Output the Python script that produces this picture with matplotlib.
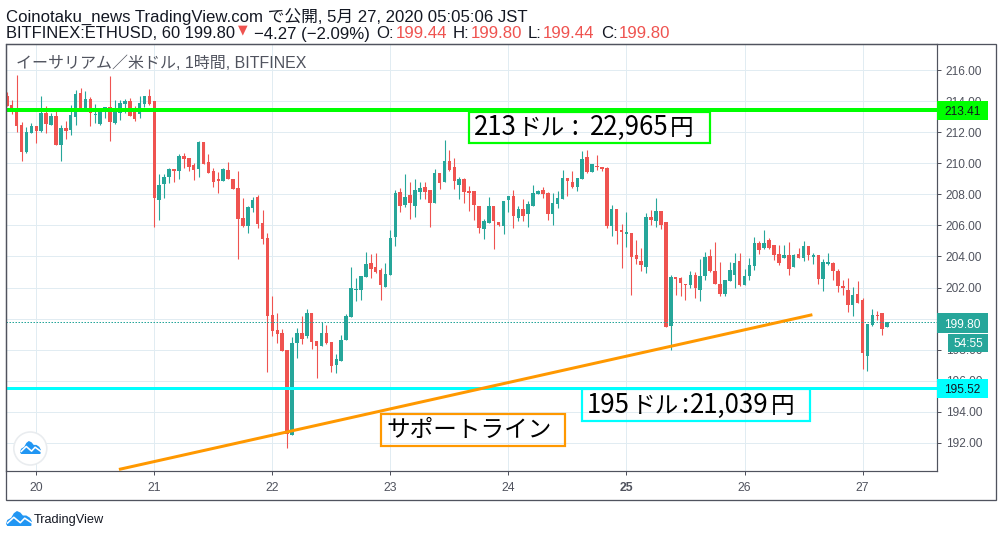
import numpy as np
import matplotlib
matplotlib.use("Agg")
import matplotlib.pyplot as plt
from matplotlib.patches import Rectangle, Circle, Polygon

plt.rcParams['font.family'] = ['Liberation Sans', 'Noto Sans CJK JP', 'DejaVu Sans']

# hourly candles, first one is 19th 18:00
opens = [214.34,213.76,213.57,212.47,210.73,211.96,212.41,212.09,213.25,212.47,
         213.05,211.18,212.28,212.15,212.99,214.54,213.51,214.15,213.12,212.54,
         213.31,213.63,212.60,213.27,213.83,214.02,213.38,213.18,213.83,214.34,
         214.02,207.63,208.67,209.12,209.63,209.51,210.47,210.34,209.89,209.63,
         211.38,210.09,209.51,208.99,208.86,209.57,208.99,208.41,206.47,205.96,
         207.12,207.83,206.15,205.18,200.24,199.28,199.09,197.99,192.52,198.44,
         199.09,198.89,200.37,198.57,198.25,199.09,198.51,197.03,197.28,198.64,
         200.12,201.85,201.85,202.69,203.59,203.33,203.14,202.05,202.82,205.25,
         208.15,207.31,207.96,207.25,208.15,208.47,208.28,207.44,209.38,208.80,
         210.15,209.76,208.60,208.99,208.22,208.22,207.25,205.76,206.15,207.25,
         206.22,205.96,207.63,207.89,206.47,207.05,206.73,207.25,208.02,208.28,
         208.09,206.73,207.38,207.70,209.05,208.80,208.47,208.99,210.41,209.44,
         209.83,209.76,209.70,205.96,207.05,205.71,205.45,205.52,204.10,203.72,
         203.33,206.54,206.29,206.93,206.22,199.54,202.69,202.63,202.24,202.18,
         202.82,201.85,202.75,204.04,203.07,202.24,201.60,202.43,202.82,203.72,
         202.18,202.75,203.40,204.87,204.55,205.07,204.75,204.17,203.91,204.10,
         203.30,204.13,203.88,204.65,203.96,204.07,202.52,203.49,203.55,203.04,
         202.07,201.82,200.85,201.56,201.17,197.57,199.56,200.21,200.33,199.44]
highs = [214.60,214.09,215.70,212.67,212.34,212.60,212.41,214.34,213.70,213.25,
         213.38,212.47,212.73,213.76,214.73,214.86,214.67,214.28,213.83,213.44,
         213.63,215.65,214.09,214.09,214.15,214.22,213.70,214.34,214.34,214.80,
         214.02,209.31,209.31,209.70,209.63,210.60,210.67,210.34,210.02,211.44,
         211.38,210.60,209.70,209.44,209.70,210.09,208.99,209.51,207.76,207.25,
         207.83,207.96,206.99,205.51,201.47,200.37,199.34,197.99,198.83,199.41,
         200.18,200.63,200.37,198.57,199.79,199.60,198.51,197.73,198.96,200.31,
         203.33,202.63,202.76,204.30,204.17,204.24,203.27,203.59,205.70,208.28,
         208.41,209.31,208.80,208.99,208.80,208.80,208.28,209.63,209.38,211.51,
         210.86,210.34,209.12,209.05,208.54,208.22,207.25,206.41,207.83,207.25,
         206.22,207.57,207.89,208.28,207.25,207.70,207.57,208.60,208.28,208.47,
         208.15,208.09,208.22,209.57,209.05,209.51,209.05,210.80,210.86,209.96,
         210.54,209.76,209.76,207.31,207.05,206.09,206.87,205.52,205.07,204.55,
         206.80,206.99,207.76,206.93,206.22,202.82,202.69,202.69,202.24,203.07,
         203.01,203.85,204.30,204.49,204.94,203.65,202.50,203.65,204.23,204.23,
         203.20,203.91,205.26,205.00,205.71,205.19,204.75,204.75,204.75,204.94,
         204.13,204.52,204.97,204.65,204.20,204.07,203.81,204.20,203.62,203.17,
         202.46,202.59,202.01,202.39,201.30,199.63,200.59,200.46,200.33,199.80]
lows = [213.70,213.18,212.02,210.15,210.67,211.96,211.31,212.02,211.96,212.47,
        211.18,210.15,211.57,211.83,212.47,213.44,213.44,212.41,212.60,212.47,
        212.92,211.44,212.54,212.80,213.25,213.05,212.73,212.92,213.63,213.76,
        205.89,206.34,207.76,208.73,208.80,208.99,209.70,209.51,208.92,209.12,
        209.96,209.38,208.47,208.09,208.86,208.99,208.34,203.83,205.89,205.51,
        206.86,205.83,204.80,196.58,198.89,198.44,197.93,191.68,192.52,197.48,
        198.38,198.76,198.06,196.19,198.25,198.38,196.58,196.51,197.28,198.64,
        200.12,201.15,201.21,202.69,202.63,202.95,201.21,202.05,202.82,204.67,
        206.86,207.18,206.41,206.54,207.70,207.70,205.89,207.44,208.34,208.80,
        209.51,208.34,207.70,207.44,206.92,206.34,205.51,205.12,206.15,204.47,
        205.96,205.44,206.86,205.83,206.28,206.28,205.89,207.25,208.02,207.76,
        206.34,206.02,207.12,207.70,207.89,208.41,208.22,208.99,209.38,209.44,
        209.57,209.51,205.83,205.31,204.80,203.27,204.62,201.53,203.52,203.07,
        202.95,206.03,205.90,205.77,199.48,197.96,201.53,201.47,201.21,201.98,
        201.34,201.15,202.50,203.01,202.24,201.47,201.47,202.43,201.98,202.11,
        202.18,202.50,203.14,204.17,204.49,204.49,203.78,203.46,203.91,202.82,
        203.30,203.88,203.68,203.75,203.49,202.20,201.75,203.42,202.46,201.69,
        201.49,200.40,200.14,200.98,196.73,196.60,199.50,199.88,198.92,199.44]
closes = [213.70,213.51,212.41,210.73,212.02,212.41,212.09,213.25,212.54,213.05,
          211.18,212.28,212.09,213.12,214.47,213.51,214.15,213.25,213.18,213.38,
          213.63,212.67,213.31,213.89,214.02,213.05,212.86,213.89,214.34,213.83,
          207.76,208.60,209.12,209.63,209.51,210.47,210.28,209.76,209.57,211.38,
          209.96,209.38,208.80,208.86,209.63,208.99,208.34,206.41,205.96,207.18,
          207.63,206.09,205.12,200.18,199.21,199.02,197.93,192.58,198.44,199.09,
          198.70,200.37,198.51,198.25,199.09,198.44,196.96,197.41,198.64,200.18,
          201.98,201.92,202.76,203.53,203.21,203.01,202.18,202.88,205.20,208.09,
          207.25,207.83,207.44,208.28,208.41,208.15,207.44,209.38,208.73,210.15,
          209.57,208.86,208.99,208.15,208.09,207.31,205.83,206.28,207.25,206.28,
          206.02,207.57,207.89,206.60,207.05,206.60,207.38,208.09,208.22,208.02,
          206.73,207.44,207.76,209.05,208.86,208.47,209.05,210.28,209.44,209.96,
          209.76,209.63,205.96,207.05,205.63,205.58,205.58,203.97,203.85,203.46,
          206.54,206.35,206.93,206.03,199.48,202.69,202.56,202.30,202.18,202.82,
          201.98,202.75,203.97,203.07,202.24,201.60,202.50,203.14,203.59,202.18,
          202.75,203.46,204.87,204.42,204.87,204.55,204.10,203.59,204.10,203.20,
          204.07,203.88,204.65,204.07,204.07,202.52,203.62,203.62,203.04,202.07,
          201.94,200.85,201.49,200.98,197.76,199.63,200.21,200.14,199.30,199.80]

day_labels = ['20', '21', '22', '23', '24', '25', '26', '27']
price_ticks = [192, 194, 196, 198, 200, 202, 204, 206, 208, 210, 212, 214, 216]

resistance = 213.41
support = 195.52
last_price = 199.80
trend_hours = [16.8, 157.8]
trend_prices = [190.28, 200.25]

UP = '#26a69a'
DOWN = '#ef5350'
GRID = '#e1ecf2'
AXIS = '#50535e'
GREEN = '#00ff00'
CYAN = '#00ffff'
ORANGE = '#ff9800'
TEXT = '#131722'
W, H = 1002, 537
PX = 0.72  # one pixel in points at dpi 100

fig = plt.figure(figsize=(W / 100, H / 100), dpi=100, facecolor='white')
ax = fig.add_axes([6.3 / W, 1 - 471.3 / H, 931 / W, 427.6 / H])
ax.set_xlim(-6.1, 183.2)
ax.set_ylim(190.16, 217.71)

hours = np.arange(len(opens)) - 6
opens_a, closes_a = np.array(opens), np.array(closes)
colors = [UP if c >= o else DOWN for o, c in zip(opens, closes)]

ax.vlines(hours, lows, highs, colors=colors, lw=PX * 1.1, zorder=3)
ax.bar(hours, np.maximum(np.abs(closes_a - opens_a), 0.06),
       bottom=np.minimum(opens_a, closes_a), width=0.72, color=colors, lw=0, zorder=4)

ax.axhline(last_price, color=UP, lw=PX, ls=(0, (1.5, 1.5)), zorder=5)
ax.axhline(resistance, color=GREEN, lw=PX * 4, zorder=6)
ax.axhline(support, color=CYAN, lw=PX * 3, zorder=6)
ax.plot(trend_hours, trend_prices, color=ORANGE, lw=PX * 3, zorder=7, solid_capstyle='butt')

ax.set_xticks(np.arange(len(day_labels)) * 24)
ax.set_xticklabels(day_labels, fontsize=8.8, color=AXIS)
ax.get_xticklabels()[5].set_fontweight('bold')
ax.yaxis.tick_right()
ax.set_yticks(price_ticks)
ax.set_yticklabels(['%.2f' % p for p in price_ticks], fontsize=8.6, color=AXIS)
ax.grid(True, color=GRID, lw=PX)
ax.set_axisbelow(True)
ax.tick_params(axis='x', length=2.9, width=PX, color=AXIS, pad=4.8)
ax.tick_params(axis='y', length=2.9, width=PX, color=AXIS, pad=3.2)
for s in ax.spines.values():
    s.set_color(AXIS)
    s.set_linewidth(PX * 1.2)

# overlay in pixel coordinates for frame, labels and notes
ov = fig.add_axes([0, 0, 1, 1], zorder=5)
ov.set_xlim(0, W)
ov.set_ylim(H, 0)
ov.axis('off')
ov.patch.set_alpha(0)

ov.add_patch(Rectangle((6.3, 43.7), 989.4, 456.3, fill=False, ec=AXIS, lw=PX * 1.3))


def price_box(x0, y0, y1, color, label, tc):
    ov.add_patch(Rectangle((x0, y0), 988 - x0, y1 - y0, fc=color, ec='none', zorder=3))
    ov.text(962.5 if x0 < 940 else 968, (y0 + y1) / 2, label, color=tc, fontsize=8.6,
            ha='center', va='center_baseline', zorder=4)


price_box(937.5, 101, 120, GREEN, '213.41', TEXT)
price_box(937.5, 313, 333, UP, '199.80', 'white')
price_box(948, 333.5, 352, UP, '54:55', 'white')
price_box(937.5, 379, 398, CYAN, '195.52', TEXT)

renderer = fig.canvas.get_renderer()
note_font = ['Noto Sans CJK JP', 'DejaVu Sans']


def chain(x, y, pieces, gap=0):
    for txt, size in pieces:
        t = ov.text(x, y, txt, fontsize=size, color='black', ha='left', va='baseline', family=note_font)
        x += t.get_window_extent(renderer).width + gap + (size * 0.28 if txt.endswith(' ') else 0)


# boxed notes
for (x0, y0, x1, y1, col) in [(469, 112, 710, 143, GREEN), (582, 389, 810, 421, CYAN),
                              (381, 414, 565, 446, ORANGE)]:
    ov.add_patch(Rectangle((x0, y0), x1 - x0, y1 - y0, fill=False, ec=col, lw=PX * 2.2))
chain(474, 135, [('213', 18.6), ('ドル', 17), (' : ', 18.6), ('22,965', 18.6), ('円', 17)], gap=0.8)
chain(587, 413, [('195', 18.6), ('ドル', 17), (':', 18.6), ('21,039', 18.6), ('円', 17)], gap=2)
chain(386, 437, [('サポートライン', 17)])

ov.text(16, 62, 'イーサリアム／米ドル, 1時間, BITFINEX', fontsize=11.5, color=AXIS,
        ha='left', va='center_baseline')
ov.text(6, 15.5, 'Coinotaku_news TradingView.com で公開, 5月 27, 2020 05:05:06 JST', fontsize=12.1,
        color=TEXT, ha='left', va='center_baseline')

# second header line is several colours
head2 = ['BITFINEX:ETHUSD, 60 199.80', '−4.27 (−2.09%)', 'O:', '199.44', 'H:', '199.80', 'L:', '199.44', 'C:', '199.80']
head2_x = [6, 254, 376, 396, 453, 471, 528, 543, 601, 619]
head2_col = [TEXT, TEXT, TEXT, DOWN, TEXT, DOWN, TEXT, DOWN, TEXT, DOWN]
for i, (txt, hx, col) in enumerate(zip(head2, head2_x, head2_col)):
    ov.text(hx, 32.5, txt, fontsize=11.9 if i == 0 else 12.1, color=col, ha='left', va='center_baseline')
ov.text(243, 29.5, '▼', fontsize=9, color=DOWN, ha='center', va='center', family='DejaVu Sans')


def cloud(x0, y0, w, h, zorder=6):
    body = [(0, .85), (.05, .6), (.2, .45), (.3, .15), (.42, 0), (.55, .1), (.65, .3), (.78, .3),
            (.92, .45), (1, .7), (.97, 1), (.05, 1)]
    ov.add_patch(Polygon([(x0 + a * w, y0 + b * h) for a, b in body], fc='#2196f3', ec='none', zorder=zorder))
    zig = [(.06, .8), (.3, .42), (.55, .78), (.72, .48), (.98, .78)]
    ov.plot([x0 + a * w for a, b in zig], [y0 + b * h for a, b in zig], color='white', lw=PX * 1.6, zorder=zorder + 1)


ov.add_patch(Circle((30.3, 448.5), 16.5, fc='white', ec='#e9ecef', lw=PX * 1.6, zorder=5))
cloud(20, 441, 21, 13)
cloud(6, 511, 26, 15)
ov.text(34, 519, 'TradingView', fontsize=9.2, color=TEXT, ha='left', va='center_baseline')

fig.savefig('out.png', dpi=100)
